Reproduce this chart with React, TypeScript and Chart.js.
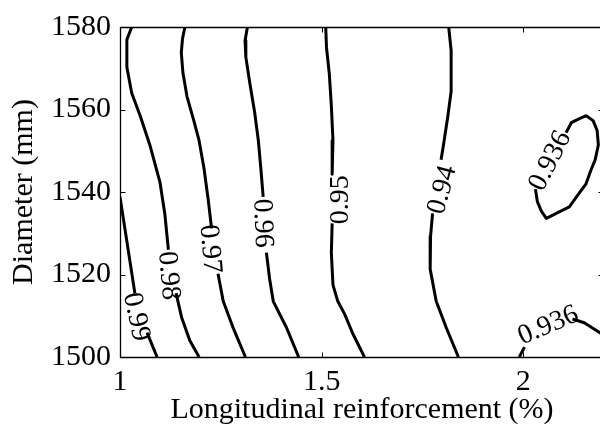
import React, { useEffect, useRef } from "react";
import { Chart, registerables } from "chart.js";

Chart.register(...registerables);

// Axis ranges and ticks
const X_MIN = 1;
const X_MAX = 2.2;
const Y_MIN = 1500;
const Y_MAX = 1580;
const xTicks = [1, 1.5, 2];
const yTicks = [1500, 1520, 1540, 1560, 1580];

const xTitle = "Longitudinal reinforcement (%)";
const yTitle = "Diameter (mm)";

// Contour lines: each is a list of segments (broken where the label sits), points are [reinforcement, diameter]
const contour099 = [
  [[1.092, 1500], [1.067, 1505.9]],
  [[1.037, 1515.4], [1.025, 1523.0], [1.012, 1531.2], [1.0, 1538.8]],
];
const contour098 = [
  [[1.029, 1580], [1.017, 1576.9], [1.017, 1570.3], [1.029, 1564.0], [1.05, 1558.5], [1.074, 1551.4], [1.099, 1542.4], [1.111, 1534.8], [1.12, 1526.0]],
  [[1.139, 1515.5], [1.153, 1509.5], [1.173, 1504.0], [1.196, 1500]],
];
const contour097 = [
  [[1.161, 1580], [1.155, 1577.2], [1.152, 1573.8], [1.156, 1568.9], [1.166, 1563.2], [1.183, 1557.3], [1.196, 1552.5], [1.208, 1545.9], [1.219, 1537.9], [1.227, 1531.2]],
  [[1.243, 1520.2], [1.256, 1513.5], [1.28, 1507.2], [1.311, 1500]],
];
const contour096 = [
  [[1.316, 1580], [1.31, 1576.7], [1.312, 1572.7], [1.322, 1566.3], [1.334, 1559.2], [1.343, 1552.5], [1.349, 1545.9], [1.355, 1538.8]],
  [[1.363, 1525.3], [1.371, 1518.9], [1.38, 1513.5], [1.413, 1507.1], [1.443, 1500]],
];
const contour095 = [
  [[1.51, 1580], [1.512, 1575.0], [1.519, 1568.6], [1.524, 1560.8], [1.528, 1552.5], [1.526, 1544.3]],
  [[1.526, 1532.4], [1.524, 1525.3], [1.528, 1517.5], [1.54, 1513.5], [1.557, 1510.4], [1.577, 1505.7], [1.606, 1500]],
];
const contour094 = [
  [[1.815, 1580], [1.821, 1574.3], [1.821, 1564.4], [1.813, 1558.5], [1.802, 1551.4], [1.796, 1547.8]],
  [[1.775, 1534.8], [1.77, 1529.3], [1.769, 1521.3], [1.784, 1513.5], [1.809, 1507.1], [1.839, 1500]],
];
const contour0936a = [
  [[2.106, 1554.4], [2.119, 1556.8], [2.139, 1557.8], [2.156, 1558.5], [2.173, 1557.3], [2.183, 1554.9], [2.186, 1551.4], [2.178, 1547.8], [2.168, 1545.4], [2.155, 1541.9], [2.134, 1539.1], [2.114, 1536.4], [2.089, 1535.2], [2.057, 1533.6], [2.045, 1535.3], [2.035, 1537.6], [2.03, 1540.7]],
];
const contour0936b = [
  [[1.99, 1500], [2.003, 1502.4]],
  [[2.122, 1509.2], [2.151, 1508.3], [2.188, 1506.0], [2.201, 1505.2]],
];

const contours = [contour099, contour098, contour097, contour096, contour095, contour094, contour0936a, contour0936b];

// Inline contour labels: text, position [reinforcement, diameter], rotation (deg)
const labelTexts = ["0.99", "0.98", "0.97", "0.96", "0.95", "0.94", "0.936", "0.936"];
const labelX = [1.04, 1.12, 1.223, 1.353, 1.547, 1.7995, 2.067, 2.062];
const labelY = [1509.7, 1519.7, 1526.2, 1532.4, 1538.1, 1540.5, 1547.5, 1507.6];
const labelAngles = [78, 85, 85, 88, -90, -75, -63, -23];

const FONT_FAMILY = '"Liberation Serif", "Times New Roman", serif';

function toData(segments: number[][][]) {
  const out: { x: number; y: number }[] = [];
  segments.forEach((seg, i) => {
    if (i > 0) out.push({ x: NaN, y: NaN });
    seg.forEach(([x, y]) => out.push({ x, y }));
  });
  return out;
}

const overlayPlugin = {
  id: "overlay",
  afterDatasetsDraw(chart: any) {
    const { ctx, chartArea, scales } = chart;
    const { left, right, top, bottom } = chartArea;
    const xs = scales.x;
    const ys = scales.y;
    ctx.save();
    // contour labels
    ctx.fillStyle = "#000";
    ctx.font = `28px ${FONT_FAMILY}`;
    ctx.textAlign = "center";
    ctx.textBaseline = "middle";
    labelTexts.forEach((t, i) => {
      const px = xs.getPixelForValue(labelX[i]);
      const py = ys.getPixelForValue(labelY[i]);
      ctx.save();
      ctx.translate(px, py);
      ctx.rotate((labelAngles[i] * Math.PI) / 180);
      ctx.fillText(t, 0, 0);
      ctx.restore();
    });
    // box
    ctx.strokeStyle = "#000";
    ctx.lineWidth = 1.3;
    const l = Math.round(left) + 0.5;
    const r = Math.round(right) - 0.5;
    const t = Math.round(top) + 0.5;
    const b = Math.round(bottom) + 0.5;
    ctx.beginPath();
    ctx.moveTo(l, t);
    ctx.lineTo(r, t);
    ctx.lineTo(r, b);
    ctx.lineTo(l, b);
    ctx.closePath();
    ctx.stroke();
    // inward ticks
    const tl = 5;
    ctx.lineWidth = 1;
    ctx.beginPath();
    xTicks.forEach((v) => {
      const px = Math.round(xs.getPixelForValue(v)) + 0.5;
      ctx.moveTo(px, b);
      ctx.lineTo(px, b - tl);
      ctx.moveTo(px, t);
      ctx.lineTo(px, t + tl);
    });
    yTicks.forEach((v) => {
      const py = Math.round(ys.getPixelForValue(v)) + 0.5;
      ctx.moveTo(l, py);
      ctx.lineTo(l + tl, py);
      ctx.moveTo(r, py);
      ctx.lineTo(r - tl, py);
    });
    ctx.stroke();
    ctx.restore();
  },
};

export default function App() {
  const ref = useRef<HTMLCanvasElement>(null);

  useEffect(() => {
    if (!ref.current) return;
    const font = { family: FONT_FAMILY, size: 30 };
    const chart = new Chart(ref.current, {
      type: "scatter",
      data: {
        datasets: contours.map((c) => ({
          data: toData(c),
          showLine: true,
          borderColor: "#000",
          backgroundColor: "#000",
          borderWidth: 3,
          pointRadius: 0,
          pointHoverRadius: 0,
          tension: 0,
          spanGaps: false,
          borderJoinStyle: "round" as const,
        })),
      },
      options: {
        responsive: false,
        animation: false,
        events: [],
        layout: { padding: { top: 19, right: 1, left: 0, bottom: 0 } },
        plugins: { legend: { display: false }, tooltip: { enabled: false } },
        scales: {
          x: {
            type: "linear",
            min: X_MIN,
            max: X_MAX,
            afterBuildTicks: (s: any) => {
              s.ticks = xTicks.map((v) => ({ value: v }));
            },
            afterFit: (s: any) => {
              s.height = 74;
            },
            grid: { display: false, drawTicks: false },
            border: { display: false },
            ticks: {
              color: "#000",
              font,
              padding: 7,
              maxRotation: 0,
              autoSkip: false,
              callback: (v: any) => String(v),
            },
            title: {
              display: true,
              text: xTitle,
              color: "#000",
              font,
              padding: { top: 0, bottom: 3 },
            },
          },
          y: {
            type: "linear",
            min: Y_MIN,
            max: Y_MAX,
            afterBuildTicks: (s: any) => {
              s.ticks = yTicks.map((v) => ({ value: v }));
            },
            afterFit: (s: any) => {
              s.width = 120;
            },
            grid: { display: false, drawTicks: false },
            border: { display: false },
            ticks: {
              color: "#000",
              font,
              padding: 9,
              autoSkip: false,
              callback: (v: any) => String(v),
            },
            title: {
              display: true,
              text: yTitle,
              color: "#000",
              font,
              padding: { top: 6, bottom: 0 },
            },
          },
        },
      },
      plugins: [overlayPlugin],
    } as any);
    return () => chart.destroy();
  }, []);

  return (
    <div
      style={{
        position: "fixed",
        left: 0,
        top: 0,
        width: 600,
        height: 431,
        overflow: "hidden",
        background: "#fff",
      }}
    >
      <canvas ref={ref} width={605} height={431} style={{ display: "block" }} />
    </div>
  );
}
